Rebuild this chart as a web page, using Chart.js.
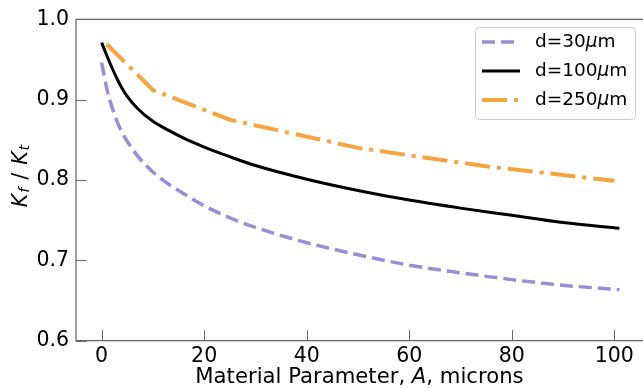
<!DOCTYPE html>
<html>
<head>
<title>Kf / Kt vs material parameter</title>
<script src="https://cdn.jsdelivr.net/npm/chart.js"></script>
<style>
  body { margin: 0; background: #fff; }
  #wrap { width: 643px; height: 388px; }
</style>
</head>
<body>
<div id="wrap"><canvas id="kfChart" width="643" height="388"></canvas></div>
<script>
// material parameter A (microns) for the two smooth curves
const aSmooth = [0, 1, 2, 3, 4, 5, 7, 10, 13, 16, 20, 25, 30, 40, 50, 60, 70, 80, 90, 101];
const kf30  = [0.946, 0.914, 0.891, 0.873, 0.859, 0.848, 0.830, 0.810, 0.795, 0.783, 0.768, 0.753, 0.741, 0.722, 0.707, 0.694, 0.6845, 0.676, 0.669, 0.6635];
const kf100 = [0.971, 0.955, 0.940, 0.926, 0.914, 0.904, 0.889, 0.873, 0.862, 0.852, 0.841, 0.829, 0.818, 0.801, 0.787, 0.775, 0.765, 0.756, 0.747, 0.740];
// d=250 curve only has a handful of points
const a250  = [1, 10, 25, 50, 75, 100];
const kf250 = [0.969, 0.912, 0.875, 0.840, 0.817, 0.799];

const seriesLabels = ['d=30μm', 'd=100μm', 'd=250μm'];
const xTicks = [0, 20, 40, 60, 80, 100];
const yTicks = [0.6, 0.7, 0.8, 0.9, 1.0];

const FONT = "'DejaVu Sans', sans-serif";
const pts = (xs, ys) => xs.map((x, i) => ({ x: x, y: ys[i] }));

// spines, inward ticks, axis titles and the boxed legend (matplotlib look)
const framePlugin = {
    id: 'frame',
    afterDraw(chart) {
        const ctx = chart.ctx, a = chart.chartArea;
        const xs = chart.scales.x, ys = chart.scales.y;
        ctx.save();
        ctx.strokeStyle = '#666';
        ctx.lineWidth = 1.25;
        ctx.beginPath();
        ctx.moveTo(a.right + 2, a.top); ctx.lineTo(a.left, a.top);
        ctx.lineTo(a.left, a.bottom); ctx.lineTo(a.right + 2, a.bottom);
        ctx.stroke();
        ctx.lineWidth = 1;
        ctx.beginPath();
        xTicks.forEach(v => {
            const px = Math.round(xs.getPixelForValue(v)) + 0.5;
            ctx.moveTo(px, a.bottom); ctx.lineTo(px, a.bottom - 10.5);
        });
        yTicks.forEach(v => {
            const py = Math.round(ys.getPixelForValue(v)) + 0.5;
            ctx.moveTo(a.left, py); ctx.lineTo(a.left + 10.5, py);
        });
        ctx.stroke();

        // x title with italic A
        ctx.fillStyle = '#000';
        ctx.textBaseline = 'middle';
        const xParts = [['Material Parameter, ', false], ['A', true], [', microns', false]];
        drawParts(ctx, xParts, 21.2, (a.left + a.right) / 2, 377);

        // y title  K_f / K_t
        ctx.save();
        ctx.translate(21.5, (a.top + a.bottom) / 2 - 4);
        ctx.rotate(-Math.PI / 2);
        const yParts = [
            { t: 'K', f: 'italic 20.5px ' + FONT, dy: 0, gap: 0 },
            { t: 'f', f: 'italic 14.5px ' + FONT, dy: 4, gap: 1 },
            { t: '/', f: '20.5px ' + FONT, dy: 0, gap: 8 },
            { t: 'K', f: 'italic 20.5px ' + FONT, dy: 0, gap: 8 },
            { t: 't', f: 'italic 14.5px ' + FONT, dy: 4, gap: 1 }
        ];
        let w = 0;
        yParts.forEach(p => { ctx.font = p.f; p.w = ctx.measureText(p.t).width; w += p.w + p.gap; });
        let cx = -w / 2;
        ctx.textAlign = 'left';
        yParts.forEach(p => { cx += p.gap; ctx.font = p.f; ctx.fillText(p.t, cx, p.dy); cx += p.w; });
        ctx.restore();

        // legend box
        const bx = 475, by = 27, bw = 160, bh = 92;
        ctx.beginPath();
        ctx.roundRect(bx + 0.5, by + 0.5, bw, bh, 4);
        ctx.fillStyle = 'rgba(255,255,255,0.8)';
        ctx.fill();
        ctx.strokeStyle = '#cccccc';
        ctx.lineWidth = 1;
        ctx.stroke();
        const rows = [42, 71, 100];
        chart.data.datasets.forEach((ds, i) => {
            ctx.save();
            ctx.strokeStyle = ds.borderColor;
            ctx.lineWidth = ds.borderWidth;
            ctx.setLineDash(ds.borderDash || []);
            ctx.beginPath();
            ctx.moveTo(482, rows[i]); ctx.lineTo(520, rows[i]);
            ctx.stroke();
            ctx.restore();
            const lab = ds.label.split('μ');
            ctx.fillStyle = '#000';
            drawParts(ctx, [[lab[0], false], ['μ', true], [lab[1], false]], 18.5, null, rows[i], 535);
        });
        ctx.restore();
    }
};

function drawParts(ctx, parts, size, cx, y, left) {
    let w = 0;
    parts.forEach(p => { ctx.font = (p[1] ? 'italic ' : '') + size + 'px ' + FONT; w += ctx.measureText(p[0]).width; });
    let x = left !== undefined ? left : cx - w / 2;
    ctx.textAlign = 'left';
    parts.forEach(p => {
        ctx.font = (p[1] ? 'italic ' : '') + size + 'px ' + FONT;
        ctx.fillText(p[0], x, y);
        x += ctx.measureText(p[0]).width;
    });
}

new Chart(document.getElementById('kfChart'), {
    type: 'line',
    data: {
        datasets: [{
            label: seriesLabels[0],
            data: pts(aSmooth, kf30),
            borderColor: '#988ed5',
            borderWidth: 3.5,
            borderDash: [13, 6],
            cubicInterpolationMode: 'monotone',
            pointRadius: 0
        }, {
            label: seriesLabels[1],
            data: pts(aSmooth, kf100),
            borderColor: '#000000',
            borderWidth: 3,
            cubicInterpolationMode: 'monotone',
            pointRadius: 0
        }, {
            label: seriesLabels[2],
            data: pts(a250, kf250),
            borderColor: '#f5a53f',
            borderWidth: 4,
            borderDash: [25, 7, 4, 7],
            tension: 0,
            pointRadius: 0
        }]
    },
    options: {
        responsive: false,
        animation: false,
        devicePixelRatio: 1,
        layout: { padding: { top: 16.7, right: 0, left: 0, bottom: 0 } },
        plugins: { legend: { display: false }, tooltip: { enabled: false } },
        scales: {
            x: {
                type: 'linear',
                min: -5,
                max: 105.6,
                grid: { display: false, drawTicks: false },
                border: { display: false },
                afterBuildTicks: s => { s.ticks = xTicks.map(v => ({ value: v })); },
                afterFit: s => { s.height = 47.3; },
                ticks: {
                    padding: 4,
                    color: '#000',
                    font: { family: FONT, size: 20.5 },
                    maxRotation: 0,
                    callback: v => String(v)
                }
            },
            y: {
                min: 0.6,
                max: 1.0,
                grid: { display: false, drawTicks: false },
                border: { display: false },
                afterBuildTicks: s => { s.ticks = yTicks.map(v => ({ value: v })); },
                afterFit: s => { s.width = 76; },
                ticks: {
                    padding: 7,
                    color: '#000',
                    font: { family: FONT, size: 20.5 },
                    callback: v => Number(v).toFixed(1)
                }
            }
        }
    },
    plugins: [framePlugin]
});
</script>
</body>
</html>
